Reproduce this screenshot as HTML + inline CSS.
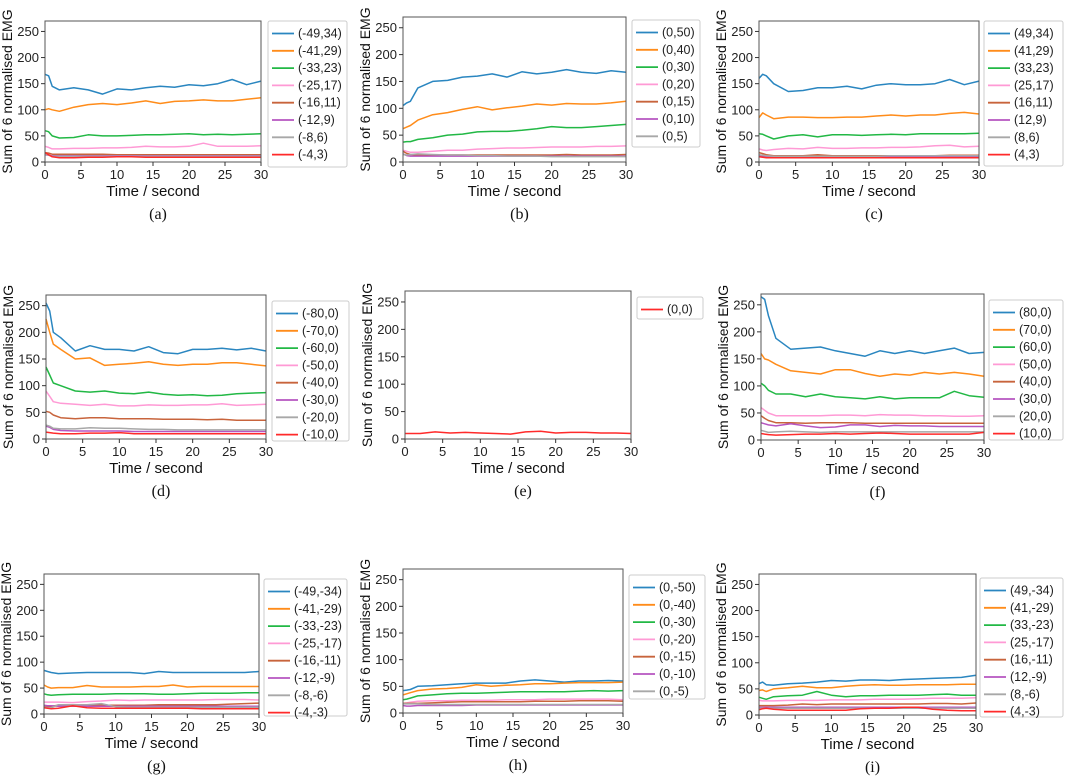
<!DOCTYPE html>
<html><head><meta charset="utf-8"><style>
body{margin:0;background:#fff;}
svg{display:block;font-family:"Liberation Sans",sans-serif;}
</style></head><body>
<svg id="fig" width="1065" height="778" viewBox="0 0 1065 778"></svg>
<script>
const times=[0,0.5,1,2,4,6,8,10,12,14,16,18,20,22,24,26,28,30];
const yTicks=[0,50,100,150,200,250];
const xTicks=[0,5,10,15,20,25,30];
const colors=["#2a86c0","#ff8c1a","#22b845","#ff9ad5","#c8643c","#b655c0","#a8a8a8","#ff2a2a"];

const a_labels=["(-49,34)","(-41,29)","(-33,23)","(-25,17)","(-16,11)","(-12,9)","(-8,6)","(-4,3)"];
const a_values=[
[168,165,145,138,142,138,130,140,138,142,145,143,148,146,150,158,148,155],
[100,102,100,97,105,110,112,110,113,117,112,116,117,119,117,117,120,123],
[60,58,50,46,47,52,50,50,51,52,52,53,54,52,53,52,53,54],
[30,28,25,25,26,26,27,27,28,30,29,29,30,36,30,30,30,31],
[18,17,15,15,15,15,15,14,14,14,14,14,14,14,14,14,14,14],
[14,13,12,12,12,12,12,12,12,12,12,12,12,12,12,12,12,12],
[15,13,11,11,11,11,11,11,11,11,11,11,11,11,11,11,11,11],
[18,14,10,8,8,9,9,10,10,9,9,9,9,9,9,9,9,9]];

const b_labels=["(0,50)","(0,40)","(0,30)","(0,20)","(0,15)","(0,10)","(0,5)"];
const b_values=[
[105,110,113,138,150,152,158,160,164,158,168,164,167,172,167,165,170,167],
[62,65,68,78,88,92,98,103,97,101,104,108,106,109,108,108,110,113],
[37,38,38,42,45,50,52,56,57,57,59,62,66,64,64,66,68,70],
[22,20,18,18,20,22,22,24,25,26,26,27,28,28,28,29,29,30],
[20,16,14,13,13,13,13,13,13,13,13,13,13,14,13,13,13,14],
[15,12,11,11,11,11,11,11,11,11,11,11,11,11,11,11,11,11],
[14,13,14,15,14,13,13,12,12,11,11,11,10,10,10,10,10,10]];

const c_labels=["(49,34)","(41,29)","(33,23)","(25,17)","(16,11)","(12,9)","(8,6)","(4,3)"];
const c_values=[
[160,168,165,150,135,137,142,142,145,140,147,150,148,148,150,158,148,155],
[85,94,90,83,86,86,85,85,86,86,88,90,88,90,90,93,95,92],
[54,53,50,44,50,52,48,52,52,51,52,53,52,54,54,54,54,55],
[25,23,22,24,26,25,28,26,26,27,27,28,28,29,31,32,29,30],
[18,16,14,12,12,12,14,12,12,12,12,12,12,12,12,13,13,13],
[12,11,10,10,10,10,10,10,10,10,10,10,10,10,10,10,10,10],
[14,13,12,11,11,11,11,11,11,11,11,12,12,12,12,12,12,12],
[10,9,8,8,8,8,8,8,8,8,8,8,8,8,8,8,8,8]];

const d_labels=["(-80,0)","(-70,0)","(-60,0)","(-50,0)","(-40,0)","(-30,0)","(-20,0)","(-10,0)"];
const d_values=[
[255,240,200,190,165,175,168,168,165,173,162,160,168,168,170,167,170,165],
[225,200,178,168,150,152,138,140,142,145,140,138,140,140,143,143,140,137],
[135,120,105,100,90,88,90,86,85,88,84,82,83,81,82,85,86,87],
[90,80,70,67,65,63,65,62,62,64,63,63,64,64,66,63,64,65],
[52,50,45,40,38,40,40,38,38,38,37,37,37,36,37,35,35,35],
[24,22,18,16,15,15,15,15,14,14,14,14,14,14,14,14,14,14],
[26,24,20,19,19,21,20,20,19,18,18,17,17,17,17,17,17,17],
[13,12,11,10,10,11,11,12,10,10,10,10,10,10,10,10,10,10]];

const e_labels=["(0,0)"];
const e_values=[
[10,10,10,10,13,11,12,11,10,9,13,14,11,12,12,11,11,10]];

const f_labels=["(80,0)","(70,0)","(60,0)","(50,0)","(40,0)","(30,0)","(20,0)","(10,0)"];
const f_values=[
[265,260,230,188,168,170,172,165,160,155,165,160,165,160,165,170,160,162],
[160,150,148,140,128,125,122,130,130,123,118,122,120,125,122,125,122,118],
[105,100,92,85,85,80,85,80,78,76,80,76,78,78,78,90,82,79],
[60,55,50,45,45,45,45,46,46,45,47,46,46,45,45,44,44,45],
[45,40,36,32,32,31,32,32,32,31,31,31,31,31,31,31,31,31],
[32,30,28,26,30,26,23,24,28,28,25,27,26,26,25,25,25,25],
[18,16,14,15,16,15,14,15,15,15,15,15,15,15,15,15,15,15],
[12,11,10,9,10,11,11,12,11,12,13,12,11,11,11,11,11,14]];

const g_labels=["(-49,-34)","(-41,-29)","(-33,-23)","(-25,-17)","(-16,-11)","(-12,-9)","(-8,-6)","(-4,-3)"];
const g_values=[
[84,82,80,78,79,80,80,80,80,78,82,80,80,80,80,80,80,82],
[56,52,50,51,51,55,52,52,52,53,53,56,52,53,53,53,53,53],
[39,37,36,37,38,38,38,39,39,39,38,38,39,40,40,40,41,41],
[23,23,23,23,22,24,25,27,26,27,27,27,27,27,28,28,28,27],
[15,15,15,17,17,17,17,17,17,17,18,18,18,18,18,19,20,21],
[17,16,16,15,15,15,15,15,15,15,15,15,15,15,15,15,15,15],
[13,12,12,18,18,18,20,14,13,13,13,13,13,13,13,13,13,13],
[12,11,10,11,16,12,11,11,11,11,11,11,11,10,10,10,10,10]];

const h_labels=["(0,-50)","(0,-40)","(0,-30)","(0,-20)","(0,-15)","(0,-10)","(0,-5)"];
const h_values=[
[42,43,44,50,51,53,55,56,56,56,60,62,60,58,60,60,61,60],
[34,36,38,42,45,46,48,53,50,52,53,55,55,56,57,57,57,58],
[25,26,28,32,34,36,37,37,38,39,40,40,40,40,41,42,41,42],
[18,19,20,22,23,23,24,24,24,25,25,25,26,26,26,26,26,25],
[18,18,18,18,19,20,21,21,21,21,21,22,22,22,23,23,23,22],
[14,13,13,14,14,14,14,15,15,15,15,15,15,15,15,15,15,15],
[17,17,17,17,16,16,16,16,16,16,16,16,16,16,16,16,16,16]];

const i_labels=["(49,-34)","(41,-29)","(33,-23)","(25,-17)","(16,-11)","(12,-9)","(8,-6)","(4,-3)"];
const i_values=[
[60,63,58,57,60,61,63,66,65,67,67,66,68,69,70,71,72,76],
[47,48,45,50,52,55,52,52,55,57,58,57,57,58,58,58,59,59],
[34,32,30,35,37,38,45,38,35,37,37,38,38,38,39,40,38,38],
[28,27,27,27,28,28,28,29,29,29,30,30,30,31,32,32,32,33],
[18,18,18,18,19,21,20,21,21,21,21,21,21,21,22,22,21,23],
[15,15,15,15,15,15,15,15,15,15,15,15,15,15,15,15,15,15],
[13,13,13,13,13,13,13,13,13,13,13,13,13,13,13,13,13,13],
[10,12,13,11,9,9,9,9,9,12,13,13,15,15,11,9,8,8]];

const panels=[
 {id:"a",labels:a_labels,values:a_values,colorIdx:[0,1,2,3,4,5,6,7],l:45,r:261,t:21,b:162,lx:268,ly:21,lw:79,lh:146},
 {id:"b",labels:b_labels,values:b_values,colorIdx:[0,1,2,3,4,5,6],l:403,r:626,t:17,b:162,lx:632,ly:20,lw:68,lh:127},
 {id:"c",labels:c_labels,values:c_values,colorIdx:[0,1,2,3,4,5,6,7],l:759,r:979,t:21,b:162,lx:984,ly:21,lw:79,lh:145},
 {id:"d",labels:d_labels,values:d_values,colorIdx:[0,1,2,3,4,5,6,7],l:46,r:266,t:295,b:439,lx:272,ly:301,lw:77,lh:140},
 {id:"e",labels:e_labels,values:e_values,colorIdx:[7],l:405,r:631,t:291,b:439,lx:637,ly:297,lw:66,lh:22},
 {id:"f",labels:f_labels,values:f_values,colorIdx:[0,1,2,3,4,5,6,7],l:761,r:984,t:294,b:440,lx:989,ly:300,lw:74,lh:140},
 {id:"g",labels:g_labels,values:g_values,colorIdx:[0,1,2,3,4,5,6,7],l:44,r:259,t:574,b:714,lx:264,ly:579,lw:83,lh:137},
 {id:"h",labels:h_labels,values:h_values,colorIdx:[0,1,2,3,4,5,6],l:403,r:623,t:569,b:713,lx:629,ly:575,lw:76,lh:124},
 {id:"i",labels:i_labels,values:i_values,colorIdx:[0,1,2,3,4,5,6,7],l:759,r:976,t:574,b:715,lx:980,ly:578,lw:83,lh:139}
];

const NS="http://www.w3.org/2000/svg";
const svg=document.getElementById("fig");
function mk(tag,attrs,parent){const e=document.createElementNS(NS,tag);for(const k in attrs)e.setAttribute(k,attrs[k]);(parent||svg).appendChild(e);return e;}

panels.forEach(p=>{
  const g=mk("g",{});
  
  
  const xs=v=>p.l+(v/30)*(p.r-p.l);
  const ys=v=>p.b-(v/270)*(p.b-p.t);
  p.values.forEach((vals,si)=>{
    const pts=vals.map((v,k)=>xs(times[k]).toFixed(1)+","+ys(v).toFixed(1)).join(" ");
    const pl=mk("polyline",{points:pts,fill:"none",stroke:colors[p.colorIdx[si]],"stroke-width":1.5,"stroke-linejoin":"round"},g);
    
    
  });
  const fr=mk("rect",{x:p.l,y:p.t,width:p.r-p.l,height:p.b-p.t,fill:"none",stroke:"#555","stroke-width":1},g);
  
  
  yTicks.forEach(v=>{
    const y=ys(v);
    mk("line",{x1:p.l-4,x2:p.l,y1:y,y2:y,stroke:"#333","stroke-width":1},g);
    const t=mk("text",{x:p.l-6,y:y+4.5,"text-anchor":"end","font-size":13,fill:"#222"},g);
    t.textContent=v;
    
    
  });
  xTicks.forEach(v=>{
    const x=xs(v);
    mk("line",{x1:x,x2:x,y1:p.b,y2:p.b+4,stroke:"#333","stroke-width":1},g);
    const t=mk("text",{x:x,y:p.b+17,"text-anchor":"middle","font-size":13,fill:"#222"},g);
    t.textContent=v;
    
    
  });
  const xl=mk("text",{x:(p.l+p.r)/2,y:p.b+34,"text-anchor":"middle","font-size":15,fill:"#111"},g);
  xl.textContent="Time / second";
  
  
  const cy=(p.t+p.b)/2, cx=p.l-33;
  const yl=mk("text",{x:cx,y:cy,"text-anchor":"middle","font-size":14,fill:"#111",transform:"rotate(-90 "+cx+" "+cy+")"},g);
  yl.textContent="Sum of 6 normalised EMG";
  
  
  const cap=mk("text",{x:(p.l+p.r)/2+5,y:p.b+57,"text-anchor":"middle","font-size":16,fill:"#111","font-family":"Liberation Serif, serif"},g);
  cap.textContent="("+p.id+")";
  
  
  const lg=mk("g",{},g);
  
  
  mk("rect",{x:p.lx,y:p.ly,width:p.lw,height:p.lh,rx:2,fill:"#fff",stroke:"#ccc","stroke-width":1},lg);
  p.labels.forEach((lab,si)=>{
    const y=p.ly+12.5+si*17.3;
    const ln=mk("line",{x1:p.lx+4,x2:p.lx+26,y1:y,y2:y,stroke:colors[p.colorIdx[si]],"stroke-width":1.8},lg);
    
    
    const t=mk("text",{x:p.lx+30,y:y+4,"font-size":12.5,fill:"#222"},lg);
    t.textContent=lab;
    
    
  });
});
</script>
</body></html>
